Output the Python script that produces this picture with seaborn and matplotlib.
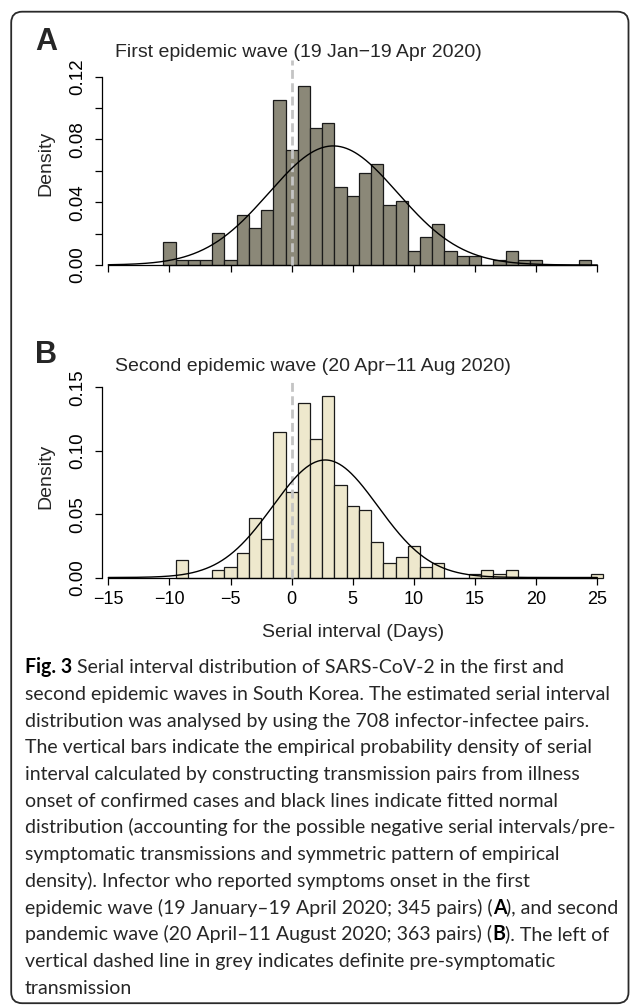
import numpy as np
import pandas as pd
import matplotlib
matplotlib.use("Agg")
import matplotlib.pyplot as plt
import seaborn as sns
from matplotlib.patches import FancyBboxPatch
from matplotlib.transforms import IdentityTransform

# ---------------- data ----------------
days_a = [-10, -9, -8, -7, -6, -5, -4, -3, -2, -1, 0, 1, 2, 3, 4, 5, 6, 7, 8, 9,
          10, 11, 12, 13, 14, 15, 17, 18, 19, 20, 24]
dens_a = [0.0147, 0.0029, 0.0029, 0.0029, 0.0205, 0.0029, 0.0321, 0.0235, 0.0352,
          0.1050, 0.0730, 0.1140, 0.0875, 0.0905, 0.0497, 0.0440, 0.0585, 0.0645,
          0.0380, 0.0410, 0.0088, 0.0176, 0.0264, 0.0088, 0.0058, 0.0058, 0.0029,
          0.0088, 0.0029, 0.0029, 0.0029]
mu_a, sd_a = 3.4, 5.26

days_b = [-9, -6, -5, -4, -3, -2, -1, 0, 1, 2, 3, 4, 5, 6, 7, 8, 9, 10, 11, 12,
          15, 16, 17, 18, 25]
dens_b = [0.0138, 0.0056, 0.0083, 0.0197, 0.0473, 0.0306, 0.1152, 0.0672, 0.1375,
          0.1096, 0.1430, 0.0730, 0.0564, 0.0533, 0.0278, 0.0112, 0.0165, 0.0250,
          0.0083, 0.0112, 0.0028, 0.0056, 0.0028, 0.0056, 0.0028]
mu_b, sd_b = 2.75, 4.30

x_ticks = [-15, -10, -5, 0, 5, 10, 15, 20, 25]
yticks_a = [0.00, 0.02, 0.04, 0.06, 0.08, 0.10, 0.12]
ylabels_a = ["0.00", "", "0.04", "", "0.08", "", "0.12"]
yticks_b = [0.00, 0.05, 0.10, 0.15]
ylabels_b = ["0.00", "0.05", "0.10", "0.15"]

title_a = "First epidemic wave (19 Jan\u221219 Apr 2020)"
title_b = "Second epidemic wave (20 Apr\u221211 Aug 2020)"
xlabel = "Serial interval (Days)"
ylabel = "Density"

caption_lines = [
    [("Fig. 3", "bold"), (" Serial interval distribution of SARS-CoV-2 in the first and", "normal")],
    [("second epidemic waves in South Korea. The estimated serial interval", "normal")],
    [("distribution was analysed by using the 708 infector-infectee pairs.", "normal")],
    [("The vertical bars indicate the empirical probability density of serial", "normal")],
    [("interval calculated by constructing transmission pairs from illness", "normal")],
    [("onset of confirmed cases and black lines indicate fitted normal", "normal")],
    [("distribution (accounting for the possible negative serial intervals/pre-", "normal")],
    [("symptomatic transmissions and symmetric pattern of empirical", "normal")],
    [("density). Infector who reported symptoms onset in the first", "normal")],
    [("epidemic wave (19 January\u201319 April 2020; 345 pairs) (", "normal"), ("A", "bold"),
     ("), and second", "normal")],
    [("pandemic wave (20 April\u201311 August 2020; 363 pairs) (", "normal"), ("B", "bold"),
     ("). The left of", "normal")],
    [("vertical dashed line in grey indicates definite pre-symptomatic", "normal")],
    [("transmission", "normal")],
]

# ---------------- style ----------------
sns.set_theme(style="ticks")
plt.rcParams["font.family"] = ["Liberation Sans", "DejaVu Sans"]
plt.rcParams["axes.unicode_minus"] = True

W, H, DPI = 630, 1006, 100
fig = plt.figure(figsize=(W / DPI, H / DPI), dpi=DPI)
fig.patch.set_facecolor("white")

PXD = 12.225          # pixels per day
X0PX = 108.3          # pixel x of day -15
XLIM = (-16.5, 26.5)


def px_x(d):
    return X0PX + (d + 15) * PXD


def add_panel(zero_px, scale, ylim):
    left = px_x(XLIM[0])
    right = px_x(XLIM[1])
    top = zero_px - ylim[1] * scale
    bottom = zero_px - ylim[0] * scale
    ax = fig.add_axes([left / W, 1 - bottom / H, (right - left) / W, (bottom - top) / H])
    ax.set_xlim(*XLIM)
    ax.set_ylim(*ylim)
    ax.patch.set_alpha(0)
    return ax


def draw_panel(ax, days, dens, mu, sd, fill, yticks, ylabels, ytop, dash_top, show_xlabels):
    df = pd.DataFrame({"day": days, "dens": dens})
    sns.histplot(data=df, x="day", weights="dens", binwidth=1,
                 binrange=(min(days) - 0.5, max(days) + 0.5), stat="count", ax=ax,
                 color=fill, edgecolor="#1a1a1a", linewidth=0.9, alpha=1.0, zorder=2)
    xs = np.linspace(-15, 25, 500)
    pdf = np.exp(-0.5 * ((xs - mu) / sd) ** 2) / (sd * np.sqrt(2 * np.pi))
    sns.lineplot(x=xs, y=pdf, ax=ax, color="black", linewidth=1.0, zorder=4)
    ax.vlines(0, 0, dash_top, colors="#c4c4c4", linestyles=(0, (3.2, 1.6)),
              linewidth=2.0, zorder=3)
    for s in ("top", "right"):
        ax.spines[s].set_visible(False)
    ax.spines["left"].set_position(("data", -15.54))
    ax.spines["left"].set_bounds(0, ytop)
    ax.spines["bottom"].set_position(("data", 0))
    ax.spines["bottom"].set_bounds(-15, 25)
    for s in ("left", "bottom"):
        ax.spines[s].set_linewidth(0.9)
        ax.spines[s].set_color("black")
    ax.set_xlim(*XLIM)
    ax.set_xticks(x_ticks)
    if show_xlabels:
        ax.set_xticklabels([str(t).replace("-", "\u2212") for t in x_ticks])
    else:
        ax.set_xticklabels([])
    ax.set_yticks(yticks)
    ax.set_yticklabels(ylabels, rotation=90, va="center")
    ax.tick_params(axis="x", direction="out", length=4.8, width=0.9, color="black",
                   labelsize=13, pad=5, labelcolor="black")
    ax.tick_params(axis="y", direction="out", length=4.8, width=0.9, color="black",
                   labelsize=13.5, pad=6, labelcolor="black")
    ax.set_xlabel("")
    ax.set_ylabel("")
    ax.grid(False)


# Panel A
axA = add_panel(265.0, 1570.0, (-0.012, 0.135))
draw_panel(axA, days_a, dens_a, mu_a, sd_a, "#8B8878", yticks_a, ylabels_a, 0.12,
           0.1305, False)
axA.set_ylim(-0.012, 0.135)
# Panel B
axB = add_panel(577.5, 1266.7, (-0.012, 0.165))
draw_panel(axB, days_b, dens_b, mu_b, sd_b, "#EEE8CD", yticks_b, ylabels_b, 0.15,
           0.156, True)
axB.set_ylim(-0.012, 0.165)


def ftext(x, y, s, **kw):
    return fig.text(x / W, 1 - y / H, s, **kw)


# panel letters, titles, axis labels
ftext(35, 50, "A", fontsize=22, fontweight="bold", ha="left", va="baseline")
ftext(35, 363, "B", fontsize=22, fontweight="bold", ha="left", va="baseline")
ftext(115, 57, title_a, fontsize=14, ha="left", va="baseline")
ftext(115, 370.7, title_b, fontsize=14, ha="left", va="baseline")
ftext(46, 163, ylabel, fontsize=14, rotation=90, ha="center", va="center")
ftext(46, 476, ylabel, fontsize=14, rotation=90, ha="center", va="center")
ftext(353, 636.7, xlabel, fontsize=14, ha="center", va="baseline")

# ---------------- caption ----------------
renderer = fig.canvas.get_renderer()
CAP_FONT = ["Lato", "DejaVu Sans"]
CAP_COLOR = "#262626"


def seg_width(s, weight, size):
    t = fig.text(0, 0, "x" + s + "x", fontsize=size, fontweight=weight, family=CAP_FONT)
    t2 = fig.text(0, 0, "xx", fontsize=size, fontweight=weight, family=CAP_FONT)
    w = t.get_window_extent(renderer).width - t2.get_window_extent(renderer).width
    t.remove()
    t2.remove()
    return w


w_ref = seg_width(caption_lines[1][0][0], "normal", 10)
cap_size = 10 * 587.0 / w_ref

y0, dy = 673.3, 26.7
for i, line in enumerate(caption_lines):
    x = 25.0
    for s, weight in line:
        ftext(x, y0 + i * dy, s, fontsize=cap_size, fontweight=weight, family=CAP_FONT,
              color=CAP_COLOR if weight == "normal" else "black", ha="left", va="baseline")
        x += seg_width(s, weight, cap_size)

# ---------------- rounded border ----------------
box = FancyBboxPatch((11.2, H - 1003.2), 617.3, 1003.2 - 11.7,
                     boxstyle="round,pad=0,rounding_size=11",
                     transform=IdentityTransform(), fill=False,
                     edgecolor="#2a2a2a", linewidth=1.3)
fig.add_artist(box)

fig.savefig("out.png", dpi=DPI)
